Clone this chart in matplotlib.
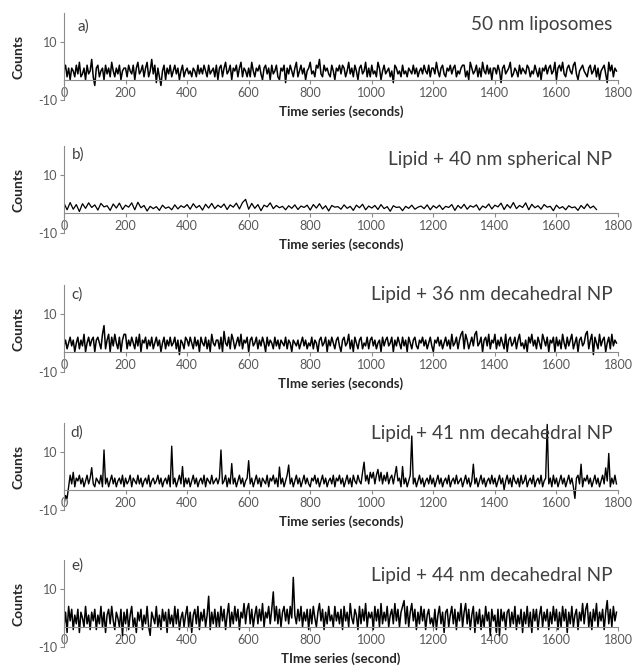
import matplotlib
matplotlib.use('Agg')
import matplotlib.pyplot as plt
import numpy as np

plt.rcParams['font.family'] = ['Lato', 'DejaVu Sans']
plt.rcParams['axes.unicode_minus'] = False

# values (counts), one line = 100 s
# panels a, c, d, e: one reading every 5 s; panel b: every 10 s
counts_a = np.array("""
0 2 -2 1 -3 1 0 -2 2 -1 3 -2 -1 1 -3 2 -1 0 4 -2
-5 1 2 -2 0 1 -3 2 -1 1 -2 3 0 -2 1 -1 2 -3 0 1
1 -2 2 0 -1 2 -3 1 3 -1 0 2 -2 1 3 -2 0 4 -1 2
-4 1 -2 -5 0 2 -3 1 -1 2 -2 0 2 -1 1 -3 0 2 -2 0
1 -1 0 -2 1 0 -2 2 -1 1 -1 2 0 -2 2 -1 0 1 -2 2
-3 1 2 -2 1 3 -1 0 2 -3 1 0 2 -2 1 3 -2 1 0 -2
1 -2 3 0 -2 1 0 2 -1 -3 1 2 -1 1 -3 2 -1 0 2 -2
-3 1 0 2 -4 1 -1 2 0 -2 1 3 -2 0 2 -1 1 -3 0 1
3 -1 0 -2 2 1 4 -1 -2 2 0 1 -1 -2 2 0 -3 1 0 2
-1 2 1 -2 0 3 -1 1 -2 2 0 -3 1 2 -1 0 3 -2 1 -2
2 -1 0 -2 3 1 -3 0 2 -1 0 1 -2 0 -4 2 1 -1 0 -2
2 -1 0 -2 1 0 -1 2 -1 1 -2 0 1 -1 2 0 -1 2 -2 1
1 -1 3 0 -2 1 2 -1 -2 1 0 2 -1 1 2 -2 0 -1 1 2
2 -2 0 -3 3 1 -1 0 2 -2 1 -2 3 0 -1 2 -1 1 -3 1
1 -1 2 0 -4 1 2 -1 0 1 3 -2 -1 1 0 -2 2 -1 1 0
-1 2 1 -2 0 -1 2 0 -2 1 -3 1 0 2 -1 1 2 -1 0 3
-3 1 2 0 3 -1 -2 1 2 0 -1 2 3 -1 -3 0 1 2 0 -1
-2 1 2 -1 0 2 -2 1 -3 0 1 2 -1 -4 3 0 2 -2 1 0
""".split(), dtype=float)

counts_b = np.array("""
0.3 -2.0 0.5 -1.8 -0.2 -2.6 0.1 -1.5 0.4 -1.2
-0.3 -2.1 0.2 -1.0 -0.6 -2.2 0.0 -1.4 0.3 -1.9
-0.4 -1.1 0.4 -2.0 0.6 -1.3 -0.5 -2.4 -0.8 -1.6
-0.9 -2.2 -0.4 -1.5 -1.0 -2.0 -0.3 -1.7 -0.6 -1.2
-0.2 -1.8 0.1 -1.3 -0.5 -2.1 -0.1 -1.4 0.2 -1.6
-0.4 -1.2 0.0 -1.9 -0.3 -1.1 0.3 -1.7 0.5 1.6
-1.8 0.2 -1.5 -0.2 -2.3 -0.4 -1.0 0.4 -1.6 -0.5
-1.3 -0.8 -2.0 -0.6 -1.5 -0.3 -1.9 -0.7 -1.2 -0.4
-2.1 -0.2 -1.4 0.1 -1.7 -0.6 -2.4 -0.5 -1.1 -0.9
-1.8 -0.3 -1.5 -0.8 -2.2 -0.4 -1.3 -0.1 -2.0 -0.7
-1.4 -0.5 -1.9 -0.2 -1.6 -0.9 -2.5 -0.6 -1.2 -1.0
-2.3 -0.8 -1.5 -0.4 -1.8 -1.1 -0.7 -1.6 -0.3 -2.0
-0.6 -1.4 -0.4 -1.9 -0.8 -1.2 -0.2 -2.2 -0.5 -1.5
-0.1 -1.8 -0.6 -1.1 -0.3 -2.1 -0.7 -1.3 0.0 -1.7
-0.4 -1.0 0.3 -1.9 -0.2 -1.4 0.5 -1.6 -0.5 -1.2
0.4 -2.0 -0.1 -1.3 -0.6 -1.8 -0.2 -1.1 -0.8 -2.3
-0.4 -1.5 -0.9 -2.0 -0.6 -1.3 -1.0 -2.2 -0.5 -1.6
0.0 -1.4 -0.7 -1.9
""".split(), dtype=float)

counts_c = np.array("""
-1 1 -2 0 2 -1 1 -3 0 2 -2 1 -1 3 -3 0 2 -1 1 2
-3 1 2 0 -2 3 6 -2 1 3 -3 2 -1 3 0 -2 2 -3 1 3
3 -2 1 -1 2 0 -2 2 -1 3 -3 1 0 2 -2 1 -1 2 -2 0
2 -1 1 -3 0 2 -2 1 -1 2 -1 0 2 -2 1 -4 1 0 -2 2
1 -1 2 0 -2 2 -1 1 -3 2 0 -1 2 -2 1 -3 3 0 -1 1
1 -2 2 -3 4 0 -1 2 -2 3 1 -2 0 2 -1 3 -2 1 0 2
-3 1 2 -1 0 2 -2 1 -1 2 0 -3 2 -1 1 0 -2 2 -1 1
-2 1 0 -1 2 -2 1 0 -3 1 0 -1 1 -2 0 2 -1 1 -2 0
-1 2 -2 1 0 -3 1 2 -1 0 2 -3 1 -1 2 0 -2 1 2 -1
-3 1 2 -1 0 3 -2 1 -3 2 0 -2 1 2 -2 0 -1 2 -2 1
2 -1 1 -2 0 1 -3 2 -1 1 2 -1 0 2 -3 1 -1 2 0 -2
2 -1 1 -3 2 0 -2 1 2 -1 -2 1 0 2 -1 1 -2 0 2 -1
-3 1 0 2 -1 1 -2 0 2 -1 1 -2 3 -1 0 2 -2 1 3 4
-2 3 1 -2 0 2 -1 3 4 -1 0 2 -3 1 2 -1 3 -2 1 0
3 -2 1 -1 2 0 -2 3 -3 1 2 -1 0 2 -2 1 3 -1 0 -2
1 -3 2 0 3 -1 1 -2 2 0 -2 3 1 -1 2 -3 1 0 2 -3
2 -1 1 -2 3 0 -2 2 -1 1 3 -2 0 2 -3 1 2 -1 0 3
4 -2 1 3 -4 2 0 -2 3 -1 1 2 -3 0 2 -2 3 -1 1 0
""".split(), dtype=float)

counts_d = np.array("""
-8 -5 -6 -2 2 -1 3 -2 1 0 2 -1 1 -2 0 2 -1 1 4.6 -1
-2 1 0 -1 2 -2 10.7 -1 1 -2 0 2 -1 1 -2 0 1 -1 2 -2
1 -1 0 2 -2 1 0 -1 2 -1 1 -2 0 1 -1 2 -2 0 1 -1
0 2 -1 1 -2 0 1 -1 2 -2 12 -1 1 -2 0 2 -1 5 -2 1
-1 1 -2 0 2 -1 1 -2 0 1 -1 2 -2 1 0 -1 2 -1 0 1
-1 1 10.7 -1 0 2 -2 1 -1 6 -1 1 -2 0 2 -1 1 -2 0 1
7 -1 1 -2 0 2 -1 1 -2 1 0 -1 2 -2 1 0 2 -1 1 -2
4.8 -1 1 -2 0 2 5.5 -1 1 -2 0 2 -1 1 -2 0 2 -1 1 -1
-2 1 0 2 -1 1 -2 0 2 -1 1 -2 0 1 -1 2 -2 1 0 2
-1 1 -2 0 2 -1 1 -2 2 0 -1 2 0 -1 3 6.5 0 2 -1 3
1 3 -1 2 4 0 3 -1 2 0 3 -1 1 2 -1 2 5 0 1 -2
5 -1 1 -2 0 2 15.5 -1 1 -2 0 2 -1 1 -2 0 1 -1 2 -1
1 -2 0 2 -1 1 -2 0 1 -1 2 -2 0 1 -1 2 -1 0 1 -2
0 2 -1 1 -2 0 5.8 -1 1 -2 0 2 -1 1 -2 0 1 -1 2 -1
1 -2 0 2 -1 1 -3 0 2 -1 1 -2 2 0 -1 1 -2 2 -1 0
2 -2 0 1 -1 2 -2 0 1 -1 2 -2 0 1 19.5 -1 1 -2 2 -1
1 -2 0 2 -1 1 -2 0 2 -1 1 -2 -6 1 2 -1 5.8 -2 1 0
2 -1 1 -2 0 2 -1 1 -2 0 2 -1 4.5 0 9.5 -2 1 -1 2 -1
""".split(), dtype=float)

counts_e = np.array("""
-3 2 -5 4 -1 3 -4 1 -2 3 -5 2 0 -3 4 -2 1 -4 2 -1
3 -4 1 -2 4 -3 2 -5 1 3 -2 4 -1 -4 2 0 -3 3 -6 2
-2 3 -4 1 4 -3 0 -5 2 -1 3 -4 1 -2 4 -3 -6 2 0 -2
4 -3 1 -4 3 -1 2 -5 3 -2 1 -3 4 -2 3 -4 0 2 -3 1
4 -3 2 -5 1 3 -2 4 -4 2 -1 3 -3 1 7.5 -4 2 -2 3 -3
2 -3 4 -1 3 -4 1 5 -3 2 -2 4 -1 3 -4 2 0 5 -2 3
5 -2 3 -3 1 4 -2 3 -1 5 -3 2 0 4 -2 3 9 -1 4 -2
3 -3 2 4 -1 3 -2 4 0 14 1 -2 3 -1 4 -3 2 -1 3 -4
3 -2 4 0 -3 2 5 -1 3 -4 2 -2 4 -1 1 -3 4 -1 2 -2
3 -4 4 -1 2 -3 5 0 -2 3 1 -4 4 -2 3 -1 5 -3 2 0
2 -4 4 -1 3 -3 5 -2 2 -1 4 -3 1 3 -2 5 -1 3 -3 2
4 6 -2 4 -3 2 5 -1 3 -4 2 -2 4 -1 3 -4 1 3 -2 0
-3 3 -4 1 4 -2 2 -5 2 3 -3 1 4 -2 3 -4 2 -1 5 -3
2 5 -2 3 -4 1 4 -5 2 -2 3 -4 1 -3 4 -1 2 -6 3 -1
1 -5 3 -6 3 -1 2 -4 2 3 -3 2 -2 4 -4 1 -2 3 -5 2
-2 4 -3 2 -5 3 -1 3 -4 1 4 -3 2 -1 3 -4 2 -2 4 -1
3 -4 2 -3 4 -1 3 -5 2 -2 4 -3 1 3 -4 2 -1 5 -2 3
5 -3 2 -4 3 -1 5 -3 2 -1 3 -4 2 6 -2 3 -3 4 -1 2
""".split(), dtype=float)

tags = ['a)', 'b)', 'c)', 'd)', 'e)']
titles = ['50 nm liposomes', 'Lipid + 40 nm spherical NP', 'Lipid + 36 nm decahedral NP',
          'Lipid + 41 nm decahedral NP', 'Lipid + 44 nm decahedral NP']
xlabels = ['Time series (seconds)', 'Time series (seconds)', 'TIme series (seconds)',
           'Time series (seconds)', 'TIme series (second)']
series = [counts_a, counts_b, counts_c, counts_d, counts_e]
steps = [5, 10, 5, 5, 5]
xticks = list(range(0, 1801, 200))
yticks = [-10, 10]

# panel bottoms in pixels (y = -10 line), figure is 636x668
W, H = 636, 668
bottoms_px = [100, 233, 372, 510, 647]
panel_h = 87
title_y = [16.2, 15.2, 16.8, 16.5, 14.8]
tag_x = [45, 25, 25, 22, 25]
tag_y = [15.2, 17.0, 16.8, 16.8, 18.0]
line_w = [1.1, 0.9, 1.1, 1.0, 1.1]

grey = '#8c8c8c'

fig = plt.figure(figsize=(W / 100, H / 100), dpi=100)

for i, vals in enumerate(series):
    ax = fig.add_axes([64 / W, 1 - bottoms_px[i] / H, 554 / W, panel_h / H])
    t = np.arange(len(vals)) * steps[i]
    ax.plot(t, vals, color='black', lw=line_w[i])
    ax.set_xlim(0, 1800)
    ax.set_ylim(-10, 20)
    ax.set_xticks(xticks)
    ax.set_yticks(yticks)
    for s in ['top', 'right']:
        ax.spines[s].set_visible(False)
    ax.spines['bottom'].set_position(('data', -3))
    for s in ['bottom', 'left']:
        ax.spines[s].set_color(grey)
        ax.spines[s].set_linewidth(0.8)
    ax.tick_params(colors=grey, labelcolor='#595959', labelsize=9,
                   length=3, width=0.8, pad=2)
    ax.set_ylabel('Counts', fontsize=10, fontweight='bold', color='#262626')
    ax.yaxis.set_label_coords(-0.072, 0.5)
    ax.text(0.5, -0.135, xlabels[i], transform=ax.transAxes, ha='center', va='center',
            fontsize=9.5, fontweight='bold', color='#262626')
    ax.text(0.99, title_y[i], titles[i], transform=ax.get_yaxis_transform(),
            ha='right', va='center', fontsize=13.7, color='#404040')
    ax.text(tag_x[i], tag_y[i], tags[i], ha='left', va='center', fontsize=11,
            color='#404040')

fig.savefig('out.png', dpi=100)
